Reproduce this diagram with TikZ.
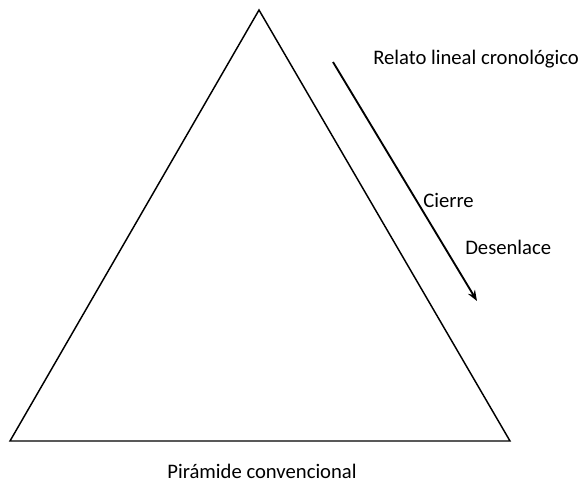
\documentclass[tikz,border=0pt]{standalone}
\usepackage{fontspec}
\setmainfont{Carlito}
\usetikzlibrary{arrows.meta}

\begin{document}
\begin{tikzpicture}[x=0.75pt, y=-0.75pt]
            \useasboundingbox (0,0) rectangle (583,483);
            % Draw triangle
            \coordinate (apex) at (259,10);
            \coordinate (left) at (10,441);
            \coordinate (right) at (510,441);
            \draw[line width=1.1pt] (apex) -- (left) -- (right) -- cycle;
            
            % Draw arrow and labels
            \coordinate (start) at (333,62);
            \coordinate (end) at (477,301);
            \draw[line width=1.4pt, -{Stealth[length=8pt, width=6pt]}] (start) -- (end);
            \node[anchor=west, inner sep=0pt, font=\fontsize{15.5pt}{18pt}\selectfont] (relato) at (373,59) {Relato lineal cronológico};
            \node[anchor=west, inner sep=0pt, font=\fontsize{15.5pt}{18pt}\selectfont] (cierre) at (423,200) {Cierre};
            \node[anchor=west, inner sep=0pt, font=\fontsize{15.5pt}{18pt}\selectfont] (desenlace) at (465,247) {Desenlace};
            \node[inner sep=0pt, font=\fontsize{15.5pt}{18pt}\selectfont] (piramide) at (262,471) {Pirámide convencional};
        \end{tikzpicture}
\end{document}
